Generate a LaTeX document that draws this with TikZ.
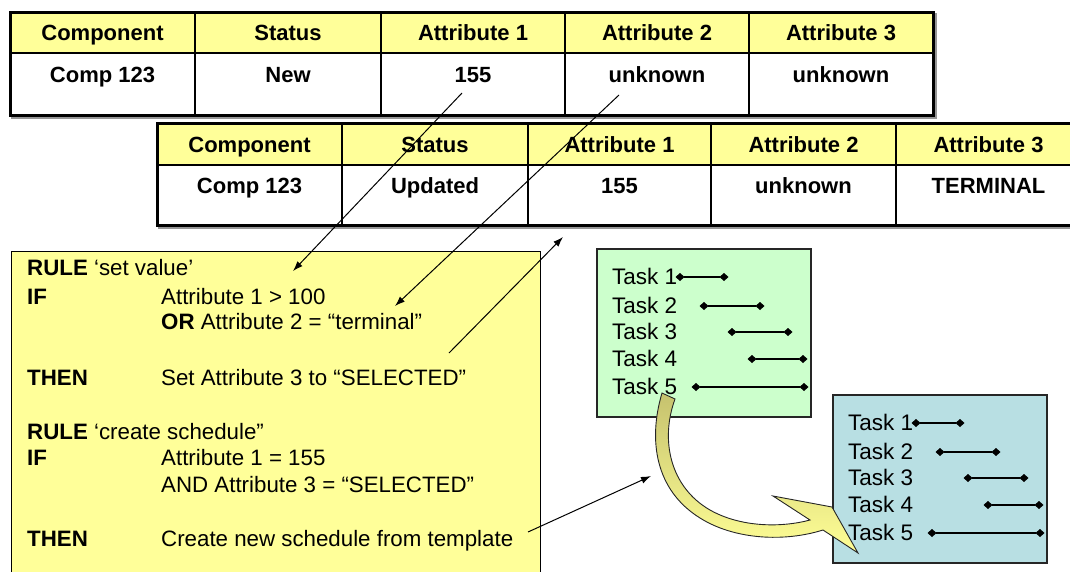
\documentclass[tikz,border=0pt]{standalone}
\usepackage{fontspec}
\setmainfont{Liberation Sans}
\usetikzlibrary{arrows.meta}

\definecolor{hdryellow}{RGB}{255,255,153}
\definecolor{rulefill}{RGB}{255,255,153}
\definecolor{greenfill}{RGB}{204,255,204}
\definecolor{bluefill}{RGB}{184,223,227}
\definecolor{olivetail}{RGB}{198,194,110}
\definecolor{headyellow}{RGB}{255,255,150}
\definecolor{shadowgray}{RGB}{150,150,150}

\tikzset{
  pics/taskchart/.style={code={
    \draw[line width=1.2pt, fill=#1, draw=black!85] (0,0) rectangle (214,168);
    \foreach \yy [count=\k] in {28,57,83,110,138}
      \node[tasklbl] (-t\k) at (15,\yy+7.9) {Task \k};
    \draw[gbar] (78.5,28)  -- (131.5,28);
    \draw[gbar] (102.5,57) -- (167.5,57);
    \draw[gbar] (130.5,83) -- (195.5,83);
    \draw[gbar] (150.5,110) -- (210.5,110);
    \draw[gbar] (94.5,138) -- (211.5,138);
  }}
}

\begin{document}
\begin{tikzpicture}[x=1pt,y=-1pt,
  hdr/.style={font=\fontsize{22}{22}\selectfont\bfseries, anchor=base, inner sep=0},
  rl/.style={font=\fontsize{22.3}{22.3}\selectfont, anchor=base west, inner sep=0},
  tasklbl/.style={font=\fontsize{22.5}{22.5}\selectfont, anchor=base west, inner sep=0},
  frame/.style={line width=3pt, draw=black},
  frameshadow/.style={line width=3pt, draw=shadowgray},
  gridline/.style={line width=1.1pt, draw=black},
  link/.style={line width=1pt, draw=black, -{Latex[length=10pt,width=7pt]}},
  gbar/.style={line width=1.3pt, {Diamond[length=9pt,width=8pt]}-{Diamond[length=9pt,width=8pt]}},
]
\useasboundingbox (0,0) rectangle (1070,571);
\clip (0,0) rectangle (1070,571);

% ---------- first component table ----------
\draw[frameshadow] (12,14) rectangle (935,117);
\fill[white] (10,12) rectangle (933,115);
\fill[hdryellow] (10,12) rectangle (933,53);
\draw[gridline] (10,53) -- (933,53);
\foreach \x in {195,381,565,749} \draw[gridline] (\x,12) -- (\x,115);
\draw[frame] (10,12) rectangle (933,115);
\foreach \x/\t [count=\i] in {102.5/Component, 288/Status, 473/Attribute 1, 657/Attribute 2, 841/Attribute 3}
  \node[hdr] (ta-h\i) at (\x,40) {\t};
\foreach \x/\t [count=\i] in {102.5/Comp 123, 288/New, 473/155, 657/unknown, 841/unknown}
  \node[hdr] (ta-d\i) at (\x,82) {\t};

% ---------- updated component table ----------
\draw[frameshadow] (159,125) rectangle (1083,227);
\fill[white] (157,123) rectangle (1081,225);
\fill[hdryellow] (157,123) rectangle (1081,165);
\draw[gridline] (157,165) -- (1081,165);
\foreach \x in {342,528,711,896} \draw[gridline] (\x,123) -- (\x,225);
\draw[frame] (157,123) rectangle (1081,225);
\foreach \x/\t [count=\i] in {249.5/Component, 435/Status, 619.5/Attribute 1, 803.5/Attribute 2, 988.5/Attribute 3}
  \node[hdr] (tb-h\i) at (\x,152) {\t};
\foreach \x/\t [count=\i] in {249.5/Comp 123, 435/Updated, 619.5/155, 803.5/unknown, 988.5/TERMINAL}
  \node[hdr] (tb-d\i) at (\x,193) {\t};

% ---------- rule box ----------
\draw[line width=1pt, fill=rulefill] (11,251) rectangle (540,590);
\node[rl] (r1)  at (27,275)    {\textbf{RULE} ‘set value’};
\node[rl] (r1a) at (27,304)    {\textbf{IF}};
\node[rl] (r1b) at (161,304)   {Attribute 1 > 100};
\node[rl] (r1c) at (161,329.5) {\textbf{OR} Attribute 2 = “terminal”};
\node[rl] (r1d) at (27,385.5)  {\textbf{THEN}};
\node[rl] (r1e) at (161,385.5) {Set Attribute 3 to “SELECTED”};
\node[rl] (r2)  at (27,439.5)  {\textbf{RULE} ‘create schedule”};
\node[rl] (r2a) at (27,465.5)  {\textbf{IF}};
\node[rl] (r2b) at (161,465.5) {Attribute 1 = 155};
\node[rl] (r2c) at (161,492.5) {AND Attribute 3 = “SELECTED”};
\node[rl] (r2d) at (27,546.5)  {\textbf{THEN}};
\node[rl] (r2e) at (161,546.5) {Create new schedule from template};

% ---------- schedules ----------
\pic (tmpl) at (597,249) {taskchart=greenfill};
\pic (sched) at (833,395) {taskchart=bluefill};

% ---------- connectors ----------
\coordinate (c1s) at (462,93);  \coordinate (c1e) at (293,271);
\coordinate (c2s) at (619,95);  \coordinate (c2e) at (395,306);
\coordinate (c3s) at (449,353); \coordinate (c3e) at (563,237);
\coordinate (c4s) at (528,532); \coordinate (c4e) at (651,476);
\draw[link] (c1s) -- (c1e);
\draw[link] (c2s) -- (c2e);
\draw[link] (c3s) -- (c3e);
\draw[link] (c4s) -- (c4e);

% ---------- curved block arrow from template to schedule ----------
\draw[line width=0.9pt, draw=black!85, top color=olivetail, bottom color=headyellow]
  (662,393) .. controls (648,440) and (655,490) .. (700,518)
  .. controls (735,540) and (785,542) .. (823,530)
  -- (858,553) -- (832,507) -- (773,496) -- (810,520)
  .. controls (780,528) and (740,527) .. (710,510)
  .. controls (670,487) and (660,440) .. (675,399) -- cycle;
\end{tikzpicture}
\end{document}
